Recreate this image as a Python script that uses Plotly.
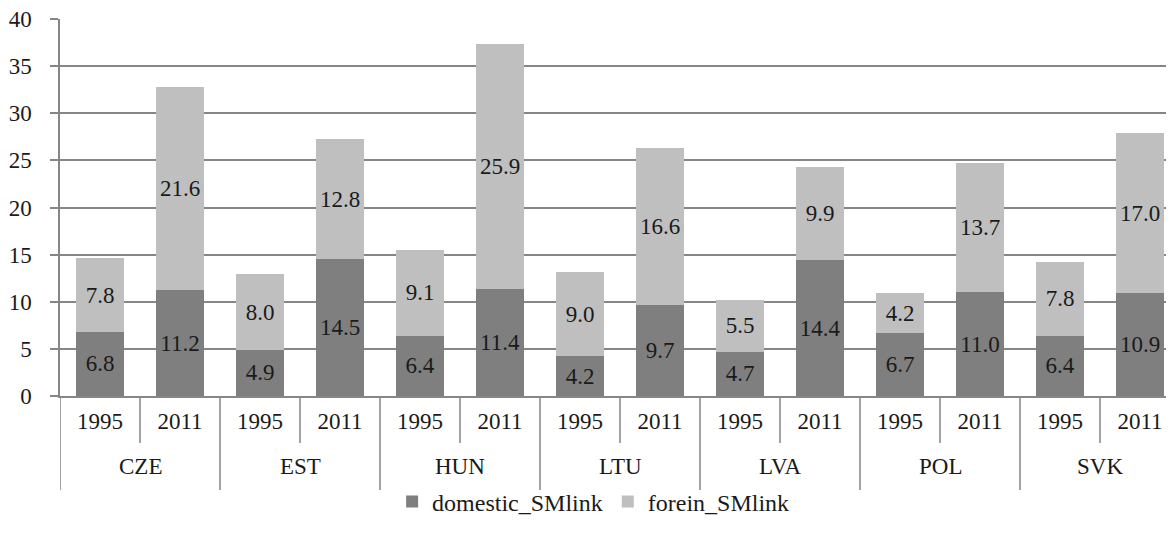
import plotly.graph_objects as go

countries = ["CZE", "EST", "HUN", "LTU", "LVA", "POL", "SVK"]
years = ["1995", "2011"]

domestic_SMlink = [6.8, 11.2, 4.9, 14.5, 6.4, 11.4, 4.2, 9.7, 4.7, 14.4, 6.7, 11.0, 6.4, 10.9]
forein_SMlink = [7.8, 21.6, 8.0, 12.8, 9.1, 25.9, 9.0, 16.6, 5.5, 9.9, 4.2, 13.7, 7.8, 17.0]

# one category per country/year pair, year shown as tick label
keys = [f"{c} {y}" for c in countries for y in years]
year_labels = [y for _ in countries for y in years]

FONT = "Liberation Serif"
SIZE = 23
GRID = "#868686"
INK = "#1a1a1a"

# pixel geometry of the category rows below the plot (plot height 377 px)
PLOT_H = 377
YEAR_ROW = 47 / PLOT_H
COUNTRY_ROW = 94 / PLOT_H

fig = go.Figure()
for name, vals, color in [
    ("domestic_SMlink", domestic_SMlink, "#7f7f7f"),
    ("forein_SMlink", forein_SMlink, "#bfbfbf"),
]:
    fig.add_trace(
        go.Bar(
            x=keys,
            y=vals,
            name=name,
            marker=dict(color=color, line_width=0),
            texttemplate="%{y:.1f}",
            textposition="inside",
            insidetextanchor="middle",
            textfont=dict(family=FONT, size=SIZE, color=INK),
            constraintext="none",
        )
    )

# divider lines between years and between countries
shapes = []
for i in range(len(keys) + 1):
    depth = COUNTRY_ROW if i % 2 == 0 else YEAR_ROW
    shapes.append(
        dict(
            type="line",
            xref="x",
            yref="paper",
            x0=i - 0.5,
            x1=i - 0.5,
            y0=0,
            y1=-depth,
            line=dict(color=GRID, width=1.5),
        )
    )

# country labels centred under each pair of bars
annotations = [
    dict(
        text=c,
        xref="x",
        yref="paper",
        x=2 * k + 0.5,
        y=-(YEAR_ROW + COUNTRY_ROW) / 2,
        yanchor="middle",
        showarrow=False,
        font=dict(family=FONT, size=SIZE, color=INK),
    )
    for k, c in enumerate(countries)
]

fig.update_layout(
    barmode="stack",
    bargap=0.4,
    width=1174,
    height=534,
    margin=dict(l=52, r=2, t=11, b=146),
    plot_bgcolor="white",
    paper_bgcolor="white",
    font=dict(family=FONT, size=SIZE, color=INK),
    shapes=shapes,
    annotations=annotations,
    legend=dict(
        orientation="h",
        traceorder="normal",
        x=0.476,
        xanchor="center",
        y=-106 / PLOT_H,
        yanchor="middle",
        bgcolor="rgba(0,0,0,0)",
        font=dict(family=FONT, size=24, color=INK),
    ),
)
fig.update_yaxes(
    range=[0, 40],
    dtick=5,
    showgrid=True,
    gridcolor=GRID,
    gridwidth=1.5,
    showline=True,
    linecolor=GRID,
    linewidth=1.5,
    ticks="outside",
    ticklen=8,
    tickcolor=GRID,
    tickwidth=1.5,
    zeroline=False,
    automargin=False,
    ticklabeloverflow="allow",
    ticklabelstandoff=14,
    tickfont=dict(family=FONT, size=SIZE, color=INK),
)
fig.update_xaxes(
    range=[-0.5, len(keys) - 0.5],
    showline=True,
    linecolor=GRID,
    linewidth=1.5,
    ticks="",
    tickmode="array",
    tickvals=keys,
    ticktext=year_labels,
    ticklabelstandoff=4,
    showgrid=False,
    automargin=False,
    tickfont=dict(family=FONT, size=SIZE, color=INK),
)

fig.write_html("out.html")
